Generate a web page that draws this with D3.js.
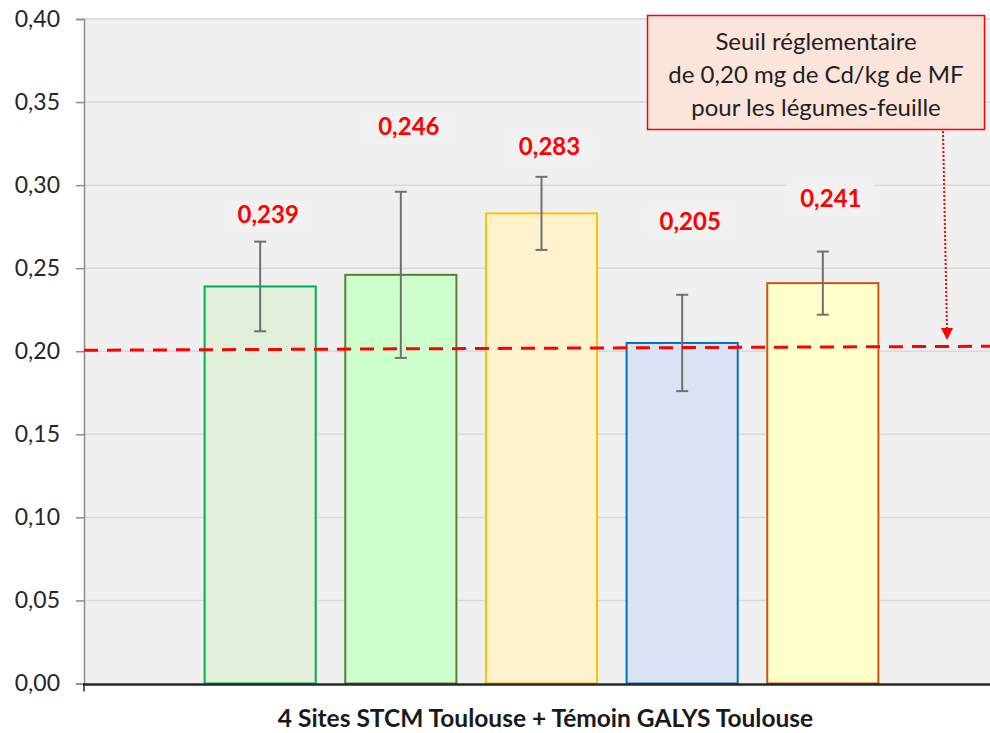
<!DOCTYPE html>
<html>
<head>
<meta charset="utf-8">
<script src="https://cdn.jsdelivr.net/npm/d3@7"></script>
<style>
  body { margin: 0; background: #fff; }
  text { font-family: Lato, "Open Sans", sans-serif; }
</style>
</head>
<body>
<div id="canvas"></div>
<script>
// Data
const category = "4 Sites STCM Toulouse + Témoin GALYS Toulouse"
const series = ["STCM 1", "STCM 2", "STCM 3", "STCM 4", "GALYS"]
const values = [0.239, 0.246, 0.283, 0.205, 0.241]
const errors = [0.027, 0.050, 0.022, 0.029, 0.019]
const labelAt = [0.282, 0.335, 0.323, 0.278, 0.292]   // where Excel put the value labels
const yTicks = [0, 0.05, 0.10, 0.15, 0.20, 0.25, 0.30, 0.35, 0.40]
const threshold = 0.20
const noteLines = ["Seuil réglementaire", "de 0,20 mg de Cd/kg de MF", "pour les légumes-feuille"]

const fills = ["#e2efda", "#ccffcc", "#fff2cc", "#dae3f3", "#ffffcc"]
const strokes = ["#00b050", "#548235", "#ffc000", "#0070c0", "#c55a11"]

// Constants
const width = 990
const height = 733
const margin = { left: 84, top: 19, right: -9, bottom: 49 }
const fmt = d => d.toFixed(2).replace('.', ',')
const fmt3 = d => d.toFixed(3).replace('.', ',')

const svg = d3.select('#canvas')
    .append('svg').attr('width', width).attr('height', height)

// Scales
const y = d3.scaleLinear()
    .domain([0, 0.4])
    .range([height - margin.bottom - 0.5, margin.top])
const x0 = d3.scaleBand()
    .domain([category])
    .range([margin.left, width - margin.right])
    .paddingInner(0)
    .paddingOuter(0.179)
const x1 = d3.scaleBand()
    .domain(series)
    .range([x0(category), x0(category) + x0.bandwidth()])
    .paddingInner(0.21)

// plot background
svg.append('rect')
    .attr('x', margin.left)
    .attr('y', margin.top - 1)
    .attr('width', width - margin.left)
    .attr('height', y(0) - margin.top + 1)
    .attr('fill', '#f0f0f0')

// gridlines
svg.append('g')
    .selectAll('line')
    .data(yTicks.slice(1))
    .join('line')
    .attr('x1', margin.left)
    .attr('x2', width)
    .attr('y1', d => y(d))
    .attr('y2', d => y(d))
    .attr('stroke', '#d9d9d9')
    .attr('stroke-width', 1.5)

// left axis
const yAxis = d3.axisLeft(y)
    .tickValues(yTicks)
    .tickSize(8)
    .tickPadding(16)
    .tickFormat(fmt)
svg.append('g')
    .attr('class', 'y-axis')
    .attr('transform', `translate(${margin.left},0)`)
    .call(yAxis)
    .call(g => g.selectAll('.domain, line').attr('stroke', '#8c8c8c').attr('stroke-width', 1.5))
    .call(g => g.selectAll('text')
        .attr('font-size', 23)
        .attr('fill', '#262626')
        .attr('font-family', 'Lato, sans-serif'))

// bars
svg.append('g')
    .selectAll('rect')
    .data(values)
    .join('rect')
    .attr('x', (d, i) => x1(series[i]))
    .attr('y', d => y(d))
    .attr('width', x1.bandwidth())
    .attr('height', d => y(0) - y(d))
    .attr('fill', (d, i) => fills[i])
    .attr('stroke', (d, i) => strokes[i])
    .attr('stroke-width', 2)

// error bars
const eb = svg.append('g')
    .attr('stroke', '#707070')
    .attr('stroke-width', 2)
values.forEach((v, i) => {
    const cx = x1(series[i]) + x1.bandwidth() / 2
    eb.append('line')
        .attr('x1', cx).attr('x2', cx)
        .attr('y1', y(v + errors[i])).attr('y2', y(v - errors[i]))
    eb.append('line')
        .attr('x1', cx - 6).attr('x2', cx + 6)
        .attr('y1', y(v + errors[i])).attr('y2', y(v + errors[i]))
    eb.append('line')
        .attr('x1', cx - 6).attr('x2', cx + 6)
        .attr('y1', y(v - errors[i])).attr('y2', y(v - errors[i]))
})

// bottom axis
svg.append('line')
    .attr('x1', margin.left - 1).attr('x2', width)
    .attr('y1', y(0) + 1).attr('y2', y(0) + 1)
    .attr('stroke', '#262626')
    .attr('stroke-width', 2.5)
svg.append('line')
    .attr('x1', margin.left).attr('x2', margin.left)
    .attr('y1', y(0)).attr('y2', y(0) + 8)
    .attr('stroke', '#262626')
    .attr('stroke-width', 1.5)

// x label
svg.append('text')
    .attr('x', x0(category) + x0.bandwidth() / 2 + 4)
    .attr('y', 727)
    .attr('text-anchor', 'middle')
    .attr('font-size', 24.5)
    .attr('font-weight', 'bold')
    .attr('fill', '#1a1a1a')
    .text(category)

// threshold line (slightly tilted as in the original drawing)
svg.append('line')
    .attr('x1', margin.left)
    .attr('x2', width)
    .attr('y1', y(threshold) - 1)
    .attr('y2', y(threshold) - 5)
    .attr('stroke', '#ff0000')
    .attr('stroke-width', 3)
    .attr('stroke-dasharray', '14,9')

// value labels
const lab = svg.append('g')
values.forEach((v, i) => {
    const cx = x1(series[i]) + x1.bandwidth() / 2 + 8
    lab.append('rect')
        .attr('x', cx - 44).attr('y', y(labelAt[i]) - 16)
        .attr('width', 88).attr('height', 32)
        .attr('fill', '#f1f1f1')
    lab.append('text')
        .attr('x', cx)
        .attr('y', y(labelAt[i]))
        .attr('dy', '0.35em')
        .attr('text-anchor', 'middle')
        .attr('font-size', 24)
        .attr('font-weight', 'bold')
        .attr('fill', '#ff0000')
        .text(fmt3(v))
})

// annotation box
const note = svg.append('g')
note.append('rect')
    .attr('x', 647.5).attr('y', 15.5)
    .attr('width', 337).attr('height', 114)
    .attr('fill', '#fbe4d9')
    .attr('stroke', '#ff0000')
    .attr('stroke-width', 1.5)
note.selectAll('text')
    .data(noteLines)
    .join('text')
    .attr('x', 816)
    .attr('y', (d, i) => 50 + i * 33)
    .attr('text-anchor', 'middle')
    .attr('font-size', 24)
    .attr('fill', '#1f1f1f')
    .text(d => d)

// dotted arrow
svg.append('line')
    .attr('x1', 943).attr('x2', 947)
    .attr('y1', 131).attr('y2', 330)
    .attr('stroke', '#ff0000')
    .attr('stroke-width', 2)
    .attr('stroke-dasharray', '2,2')
svg.append('path')
    .attr('d', d3.line()([[941, 328], [953, 328], [947, 340]]))
    .attr('fill', '#ff0000')
</script>
</body>
</html>
